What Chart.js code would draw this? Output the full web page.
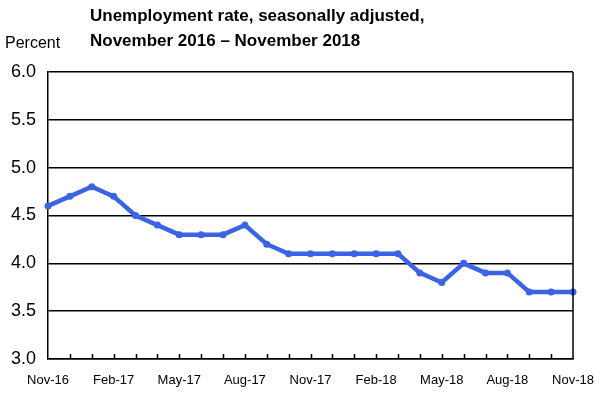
<!DOCTYPE html>
<html>
<head>
<meta charset="utf-8">
<script src="https://cdn.jsdelivr.net/npm/chart.js@4.4.0/dist/chart.umd.min.js"></script>
<style>
  html, body { margin: 0; padding: 0; background: #fff; }
  #wrap { width: 604px; height: 395px; }
</style>
</head>
<body>
<div id="wrap"><canvas id="grafico"></canvas></div>
<script>
// meses do periodo
var meses = [
    "Nov-16", "Dec-16", "Jan-17", "Feb-17", "Mar-17", "Apr-17", "May-17", "Jun-17", "Jul-17",
    "Aug-17", "Sep-17", "Oct-17", "Nov-17", "Dec-17", "Jan-18", "Feb-18", "Mar-18", "Apr-18",
    "May-18", "Jun-18", "Jul-18", "Aug-18", "Sep-18", "Oct-18", "Nov-18"
];
var taxas = [
    4.6, 4.7, 4.8, 4.7, 4.5, 4.4, 4.3, 4.3, 4.3,
    4.4, 4.2, 4.1, 4.1, 4.1, 4.1, 4.1, 4.1, 3.9,
    3.8, 4.0, 3.9, 3.9, 3.7, 3.7, 3.7
];
var rotulosX = ["Nov-16", "Feb-17", "May-17", "Aug-17", "Nov-17", "Feb-18", "May-18", "Aug-18", "Nov-18"];
var titulo = ["Unemployment rate, seasonally adjusted,", "November 2016 \u2013 November 2018"];
var rotuloY = "Percent";

var fonte = "Arial, 'Liberation Sans', sans-serif";

// titulo, "Percent", borda direita e marquinhas do eixo x
var extras = {
    id: "extras",
    afterDraw: function (chart) {
        var ctx = chart.ctx;
        var area = chart.chartArea;
        var x = chart.scales.x;
        ctx.save();
        ctx.fillStyle = "#000";
        ctx.textBaseline = "alphabetic";
        ctx.font = "bold 17px " + fonte;
        ctx.fillText(titulo[0], 90, 21);
        ctx.fillText(titulo[1], 90, 46);
        ctx.font = "16px " + fonte;
        ctx.fillText(rotuloY, 5, 48);

        ctx.strokeStyle = "#000";
        ctx.lineWidth = 1.5;
        ctx.beginPath();
        ctx.moveTo(area.right, area.top);
        ctx.lineTo(area.right, area.bottom);
        for (var i = 1; i < meses.length - 1; i++) {
            var px = Math.round(x.getPixelForValue(i)) + 0.5;
            ctx.moveTo(px, area.bottom);
            ctx.lineTo(px, area.bottom - 5);
        }
        ctx.stroke();
        ctx.restore();
    }
};

new Chart(document.getElementById("grafico"), {
    type: "line",
    data: {
        labels: meses,
        datasets: [{
            data: taxas,
            borderColor: "#3a63e6",
            backgroundColor: "#3a63e6",
            borderWidth: 4.5,
            pointRadius: 3.5,
            pointBackgroundColor: "#3a63e6",
            pointBorderWidth: 0,
            tension: 0
        }]
    },
    options: {
        responsive: true,
        maintainAspectRatio: false,
        animation: false,
        layout: { padding: { top: 72, right: 31, left: 0, bottom: 0 } },
        plugins: {
            legend: { display: false },
            tooltip: { enabled: false }
        },
        scales: {
            x: {
                offset: false,
                grid: { display: false },
                border: { display: true, color: "#000", width: 1.5 },
                afterFit: function (s) { s.height = 36; },
                ticks: {
                    autoSkip: false,
                    maxRotation: 0,
                    padding: 6,
                    color: "#000",
                    font: { family: fonte, size: 13 },
                    callback: function (v, i) {
                        return rotulosX.indexOf(meses[i]) >= 0 ? meses[i] : "";
                    }
                }
            },
            y: {
                min: 3,
                max: 6,
                grid: { color: "#000", lineWidth: 1.5, drawTicks: false },
                border: { display: true, color: "#000", width: 1.5 },
                afterFit: function (s) { s.width = 48; },
                ticks: {
                    stepSize: 0.5,
                    padding: 12,
                    color: "#000",
                    font: { family: fonte, size: 18 },
                    callback: function (v) { return v.toFixed(1); }
                }
            }
        }
    },
    plugins: [extras]
});
</script>
</body>
</html>
